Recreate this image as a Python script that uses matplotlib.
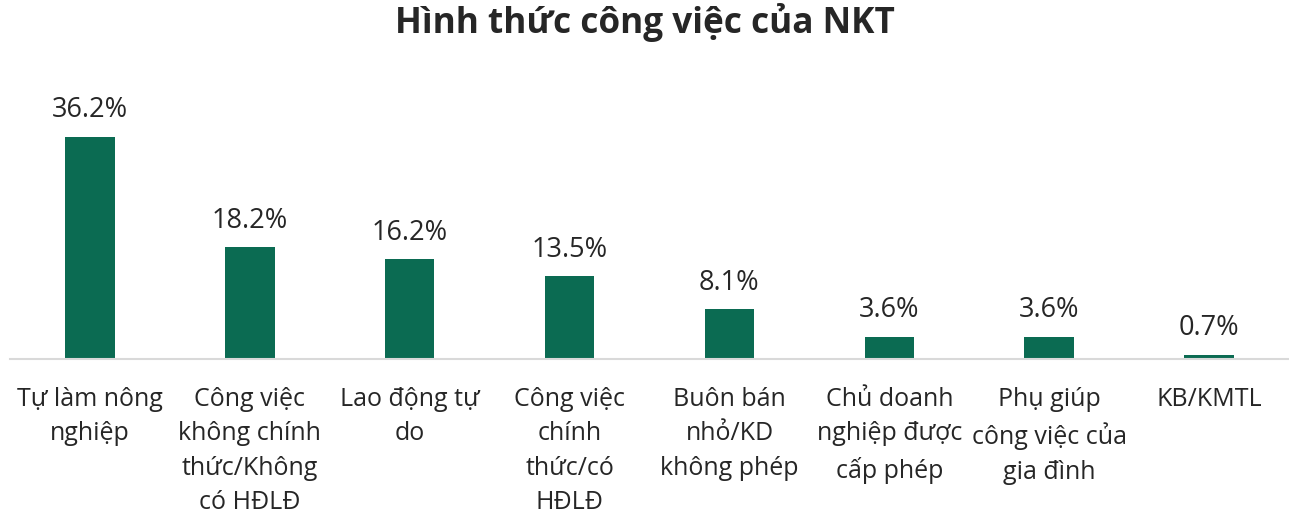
import numpy as np
import matplotlib
matplotlib.use("Agg")
import matplotlib.pyplot as plt

plt.rcParams["font.family"] = ["Open Sans", "Noto Sans", "DejaVu Sans"]

TITLE = "Hình thức công việc của NKT"
CATEGORIES = [
    "Tự làm nông\nnghiệp",
    "Công việc\nkhông chính\nthức/Không\ncó HĐLĐ",
    "Lao động tự\ndo",
    "Công việc\nchính\nthức/có\nHĐLĐ",
    "Buôn bán\nnhỏ/KD\nkhông phép",
    "Chủ doanh\nnghiệp được\ncấp phép",
    "Phụ giúp\ncông việc của\ngia đình",
    "KB/KMTL",
]
VALUES = [36.2, 18.2, 16.2, 13.5, 8.1, 3.6, 3.6, 0.7]

BAR_COLOR = "#0b6b52"
TEXT_COLOR = "#262626"


def main():
    W, H = 1289, 523
    fig = plt.figure(figsize=(W / 100, H / 100), dpi=100)
    ax = fig.add_axes([10 / W, 164 / H, 1279 / W, 258 / H])

    x = np.arange(len(CATEGORIES))
    bars = ax.bar(x, VALUES, width=0.31, color=BAR_COLOR)

    for b, v in zip(bars, VALUES):
        ax.annotate(f"{v:.1f}%", (b.get_x() + b.get_width() / 2, v),
                    xytext=(0, 9), textcoords="offset points",
                    ha="center", va="bottom", fontsize=19.5, color=TEXT_COLOR)

    ax.set_xlim(-0.5, len(CATEGORIES) - 0.5)
    ax.set_ylim(0, 42)
    ax.set_xticks(x)
    ax.set_xticklabels(CATEGORIES, fontsize=18, color=TEXT_COLOR, linespacing=1.5)
    ax.tick_params(axis="x", length=0, pad=20)
    ax.set_yticks([])
    for s in ["top", "right", "left"]:
        ax.spines[s].set_visible(False)
    ax.spines["bottom"].set_color("#d9d9d9")
    ax.spines["bottom"].set_linewidth(1.5)

    fig.text(0.5, 1 - 22 / H, TITLE, ha="center", va="center",
             fontsize=25.3, fontweight="bold", color=TEXT_COLOR)

    fig.savefig("out.png", dpi=100)


if __name__ == "__main__":
    main()
